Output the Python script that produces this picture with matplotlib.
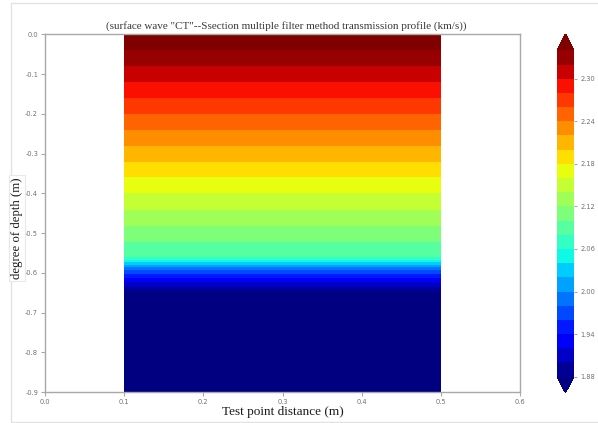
import numpy as np
import matplotlib
matplotlib.use("Agg")
import matplotlib.pyplot as plt
from matplotlib.patches import Rectangle

# velocity profile read from the section (depth in m, velocity in km/s)
depth = [0.00, 0.20, 0.40, 0.56, 0.57, 0.58, 0.59, 0.60, 0.62, 0.64, 0.66, 0.90]
velocity = [2.36, 2.26, 2.16, 2.082, 2.05, 2.02, 1.985, 1.965, 1.925, 1.895, 1.86, 1.85]
test_points = [0.1, 0.5]

levels = np.round(np.arange(1.88, 2.3401, 0.02), 2)
cbar_ticks = [1.88, 1.94, 2.00, 2.06, 2.12, 2.18, 2.24, 2.30]
x_ticks = [0.0, 0.1, 0.2, 0.3, 0.4, 0.5, 0.6]
y_ticks = [0.0, -0.1, -0.2, -0.3, -0.4, -0.5, -0.6, -0.7, -0.8, -0.9]

serif = "Liberation Serif"
tick_col = "#707070"
spine_col = "#a8a8a8"

fig = plt.figure(figsize=(5.98, 4.23), dpi=100)
W, H = 598.0, 423.0

# light frame of the original screenshot
fig.patches.append(Rectangle((11 / W, 1 - 422 / H), 1.0, (422 - 3.5) / H,
                             transform=fig.transFigure, fill=False,
                             edgecolor="#e2e2e2", linewidth=1.0))

ax = fig.add_axes([45 / W, 1 - 392 / H, 475 / W, 357.5 / H])

X, Y = np.meshgrid(test_points, -np.array(depth))
Z = np.tile(np.array(velocity)[:, None], (1, len(test_points)))
cs = ax.contourf(X, Y, Z, levels=levels, cmap="jet", extend="both")

ax.set_xlim(0, 0.6)
ax.set_ylim(-0.9, 0)
ax.set_xticks(x_ticks)
ax.set_yticks(y_ticks)
ax.set_xticklabels(["%.1f" % v for v in x_ticks])
ax.set_yticklabels(["%.1f" % v for v in y_ticks])
ax.tick_params(direction="out", length=3, width=0.8, color=spine_col,
               labelsize=4.8, labelcolor=tick_col, pad=2)
for s in ax.spines.values():
    s.set_color(spine_col)
    s.set_linewidth(1.0)

fig.text(286 / W, 1 - 26 / H,
         '(surface wave "CT"--Ssection multiple filter method transmission profile (km/s))',
         ha="center", va="center", fontsize=8, family=serif, color="#3a3a3a")
fig.text(283 / W, 1 - 412 / H, "Test point distance (m)", ha="center",
         va="center", fontsize=9.5, family=serif, color="#1a1a1a")
fig.text(17 / W, 1 - 228 / H, "degree of depth (m)", ha="center", va="center",
         rotation=90, fontsize=9.2, family=serif, color="#1a1a1a",
         bbox=dict(facecolor="white", edgecolor="#e8e8e8", linewidth=0.8,
                   boxstyle="square,pad=0.15"))

cax = fig.add_axes([557 / W, 1 - 393 / H, 17 / W, 359 / H])
cb = fig.colorbar(cs, cax=cax, ticks=cbar_ticks)
cb.ax.set_yticklabels(["%.2f" % v for v in cbar_ticks])
cb.outline.set_visible(False)
cb.ax.tick_params(length=2.5, width=0.8, color=spine_col, labelsize=4.8,
                  labelcolor=tick_col, pad=2)

plt.savefig("out.png", dpi=100)
